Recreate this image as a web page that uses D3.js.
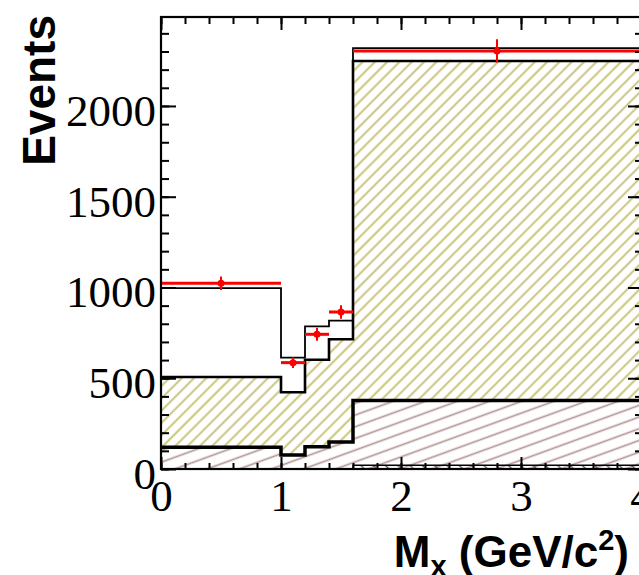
<!DOCTYPE html>
<html>
<head>
<meta charset="utf-8">
<script src="https://cdn.jsdelivr.net/npm/d3@7"></script>
<style>
  html, body { margin: 0; padding: 0; background: #fff; }
  svg { display: block; }
</style>
</head>
<body>
<script>
// ---- data ----
const binEdges   = [0, 1.0, 1.2, 1.4, 1.6, 4.0];
const dataVals   = [1023, 586, 742, 865, 2303];
const dataErr    = [37, 29, 36, 37, 64];
const totalMC    = [996, 613, 786, 817, 2318];
const bkgYellow  = [507, 423, 602, 715, 2248];   // top of yellow-hatched stack
const bkgBrown   = [120, 77, 123, 149, 377];     // top of brown-hatched stack
const bkgGray    = [0, 0, 0, 0, 20];             // small bottom component
const yMajorTicks = [0, 500, 1000, 1500, 2000];
const xMajorTicks = [0, 1, 2, 3, 4];

const W = 639, H = 575;
const L = 161, R = 641, T = 17, B = 469;

const svg = d3.select("body").append("svg").attr("width", W).attr("height", H);

const x = d3.scaleLinear().domain([0, 4]).range([L, R]);
const y = d3.scaleLinear().domain([0, 2490]).range([B, T]);

// hatch patterns
const defs = svg.append("defs");
function hatch(id, color, spacing, angle, width) {
  const p = defs.append("pattern")
    .attr("id", id)
    .attr("patternUnits", "userSpaceOnUse")
    .attr("width", 20).attr("height", spacing)
    .attr("patternTransform", `rotate(${-angle})`);
  p.append("line")
    .attr("x1", 0).attr("x2", 20)
    .attr("y1", spacing / 2).attr("y2", spacing / 2)
    .attr("stroke", color).attr("stroke-width", width);
}
hatch("hYellow", "#c4be70", 8.7, 45, 1.8);
hatch("hBrown", "#b49595", 11.0, 20, 1.7);
hatch("hGray", "#555", 8.7, -45, 1.4);

const bins = d3.range(dataVals.length).map(i => ({
  x0: binEdges[i], x1: binEdges[i + 1],
  data: dataVals[i], err: dataErr[i],
  tot: totalMC[i], yel: bkgYellow[i], bro: bkgBrown[i], gray: bkgGray[i]
}));

// step path for histogram
function stepPath(key) {
  const p = d3.path();
  bins.forEach((b, i) => {
    if (i === 0) p.moveTo(x(b.x0), y(b[key]));
    else p.lineTo(x(b.x0), y(b[key]));
    p.lineTo(x(b.x1), y(b[key]));
  });
  return p.toString();
}
function bandArea(lowKey, highKey) {
  return d3.area()
    .curve(d3.curveStepAfter)
    .x(d => x(d.x))
    .y0(d => y(d.lo))
    .y1(d => y(d.hi))(
      bins.map(b => ({ x: b.x0, lo: lowKey ? b[lowKey] : 0, hi: b[highKey] }))
        .concat([{ x: bins[bins.length - 1].x1,
                   lo: lowKey ? bins[bins.length - 1][lowKey] : 0,
                   hi: bins[bins.length - 1][highKey] }])
    );
}

const g = svg.append("g");
// fills
g.append("path").attr("d", bandArea("bro", "yel")).attr("fill", "url(#hYellow)");
g.append("path").attr("d", bandArea(null, "bro")).attr("fill", "url(#hBrown)");
g.append("path").attr("d", bandArea(null, "gray")).attr("fill", "url(#hGray)");

// outlines
g.append("path").attr("d", stepPath("gray")).attr("fill", "none").attr("stroke", "#000").attr("stroke-width", 1.5);
g.append("path").attr("d", stepPath("bro")).attr("fill", "none").attr("stroke", "#000").attr("stroke-width", 3.5);
g.append("path").attr("d", stepPath("yel")).attr("fill", "none").attr("stroke", "#000").attr("stroke-width", 2.6);
g.append("path").attr("d", stepPath("tot")).attr("fill", "none").attr("stroke", "#000").attr("stroke-width", 1.8);

// data points
const dp = g.append("g").selectAll("g").data(bins).join("g");
dp.append("line")
  .attr("x1", d => x(d.x0)).attr("x2", d => x(d.x1))
  .attr("y1", d => y(d.data)).attr("y2", d => y(d.data))
  .attr("stroke", "#ff0000").attr("stroke-width", 3);
dp.append("line")
  .attr("x1", d => x((d.x0 + d.x1) / 2)).attr("x2", d => x((d.x0 + d.x1) / 2))
  .attr("y1", d => y(d.data - d.err)).attr("y2", d => y(d.data + d.err))
  .attr("stroke", "#ff0000").attr("stroke-width", 2);
dp.append("circle")
  .attr("cx", d => x((d.x0 + d.x1) / 2)).attr("cy", d => y(d.data))
  .attr("r", 3.5).attr("fill", "#ff0000");

// axes
const serif = "'Liberation Serif', 'Times New Roman', serif";
const yMinor = d3.range(0, 2490, 100);
const xMinor = d3.range(0, 4.001, 0.2);

function styleAxis(sel) {
  sel.select(".domain").remove();
  sel.selectAll(".tick line").attr("stroke", "#000").attr("stroke-width", 2);
}
// left
svg.append("g").attr("transform", `translate(${L},0)`)
  .call(d3.axisLeft(y).tickValues(yMinor).tickSize(-8).tickFormat("")).call(styleAxis);
svg.append("g").attr("transform", `translate(${L},0)`)
  .call(d3.axisLeft(y).tickValues(yMajorTicks).tickSize(-15).tickPadding(5).tickFormat(d3.format("d")))
  .call(styleAxis)
  .call(s => s.selectAll("text").attr("font-family", serif).attr("font-size", 45)
        .attr("fill", "#000").attr("dy", "0.43em"));
// right
svg.append("g").attr("transform", `translate(${R},0)`)
  .call(d3.axisRight(y).tickValues(yMinor).tickSize(-6).tickFormat("")).call(styleAxis);
svg.append("g").attr("transform", `translate(${R},0)`)
  .call(d3.axisRight(y).tickValues(yMajorTicks).tickSize(-13).tickFormat("")).call(styleAxis);
// bottom
svg.append("g").attr("transform", `translate(0,${B})`)
  .call(d3.axisBottom(x).tickValues(xMinor).tickSize(-6).tickFormat("")).call(styleAxis);
svg.append("g").attr("transform", `translate(0,${B})`)
  .call(d3.axisBottom(x).tickValues(xMajorTicks).tickSize(-12).tickPadding(10).tickFormat(d3.format("d")))
  .call(styleAxis)
  .call(s => s.selectAll("text").attr("font-family", serif).attr("font-size", 45).attr("fill", "#000"));
// top
svg.append("g").attr("transform", `translate(0,${T})`)
  .call(d3.axisTop(x).tickValues(xMinor).tickSize(-7).tickFormat("")).call(styleAxis);
svg.append("g").attr("transform", `translate(0,${T})`)
  .call(d3.axisTop(x).tickValues(xMajorTicks).tickSize(-13).tickFormat("")).call(styleAxis);

// frame
svg.append("rect").attr("x", L).attr("y", T).attr("width", R - L).attr("height", B - T)
  .attr("fill", "none").attr("stroke", "#000").attr("stroke-width", 2.2);

// titles
const sans = "'Liberation Sans', Arial, Helvetica, sans-serif";
svg.append("text")
  .attr("transform", "translate(55,15) rotate(-90)")
  .attr("text-anchor", "end")
  .attr("font-family", sans).attr("font-weight", "bold").attr("font-size", 46)
  .attr("fill", "#000")
  .text("Events");

const xt = svg.append("text")
  .attr("x", 629).attr("y", 567)
  .attr("text-anchor", "end")
  .attr("font-family", sans).attr("font-weight", "bold").attr("font-size", 44)
  .attr("fill", "#000");
xt.append("tspan").text("M");
xt.append("tspan").attr("font-size", 29).attr("dy", 9).text("x");
xt.append("tspan").attr("dy", -9).text(" (GeV/c");
xt.append("tspan").attr("font-size", 29).attr("dy", -17).text("2");
xt.append("tspan").attr("dy", 17).text(")");
</script>
</body>
</html>
